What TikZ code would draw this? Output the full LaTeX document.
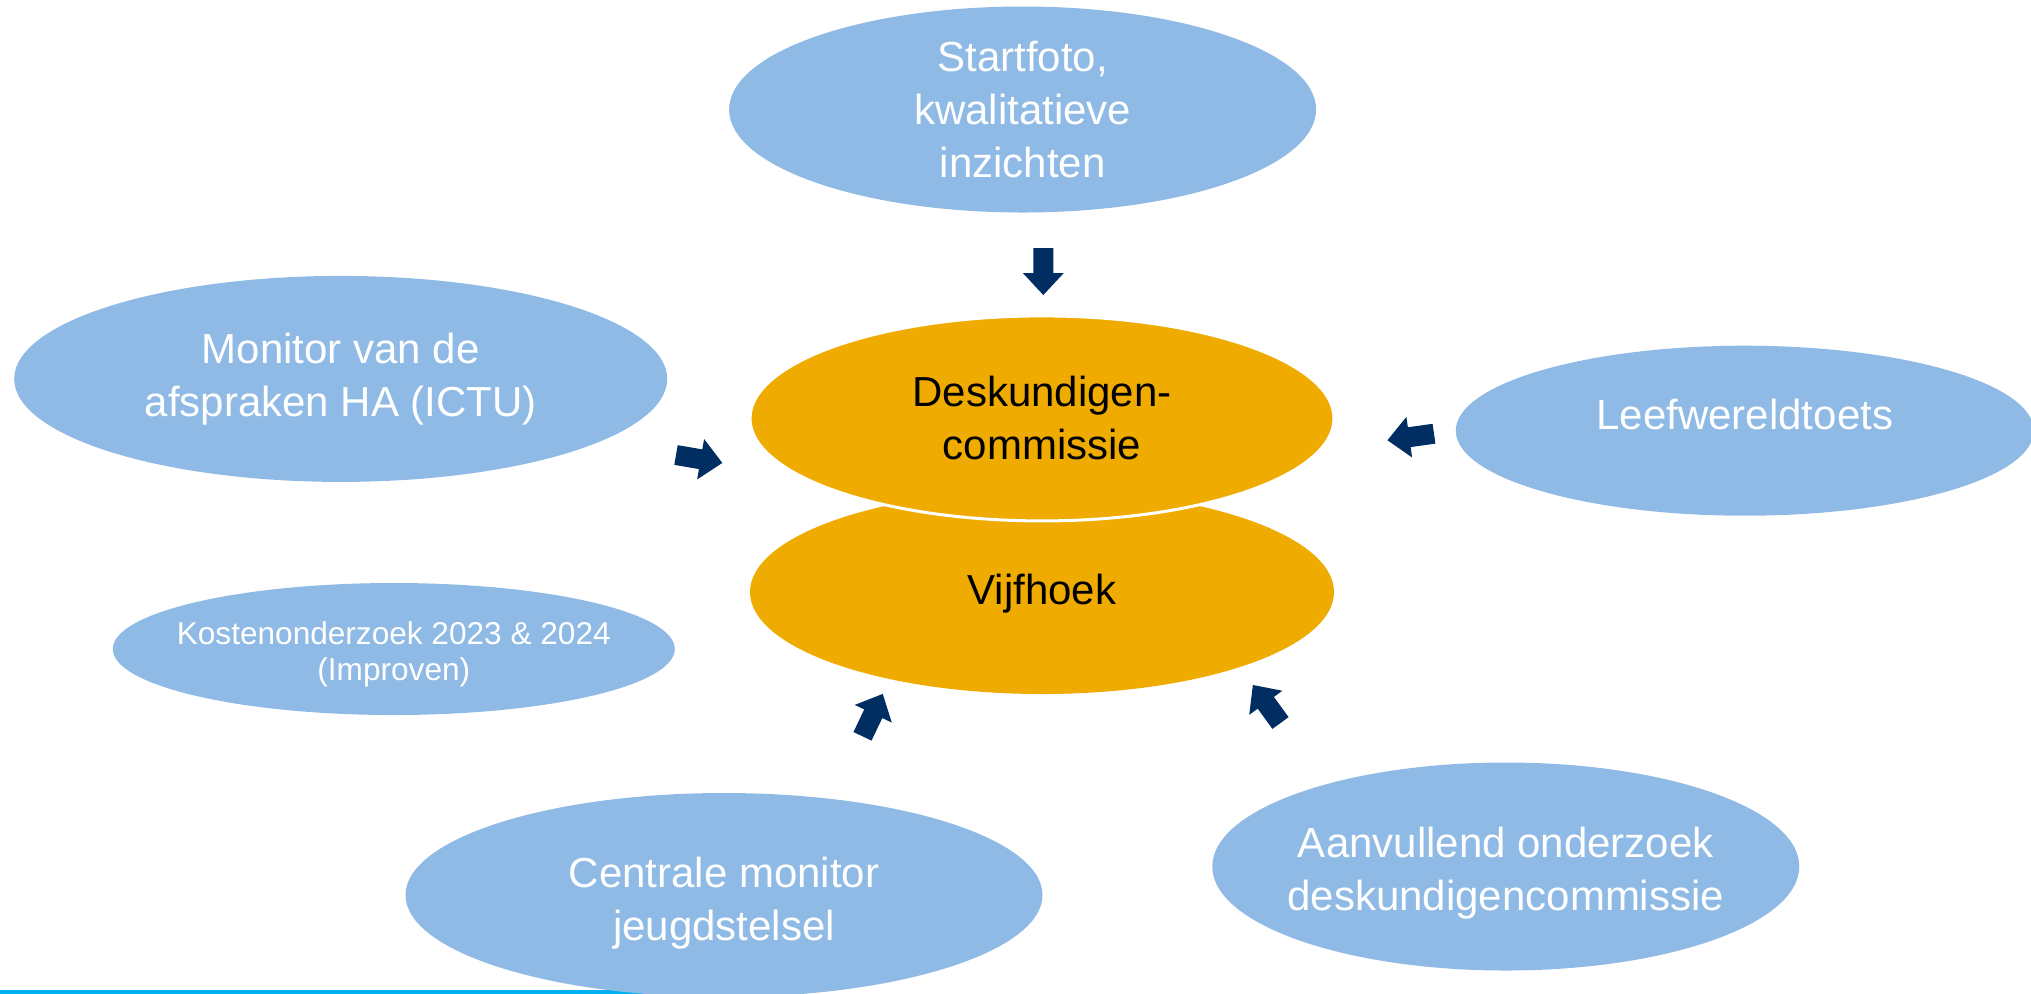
\documentclass[tikz,border=0pt]{standalone}
\usepackage{fontspec}
\setmainfont{Liberation Sans}
\usetikzlibrary{shapes.geometric}
\definecolor{lichtblauw}{RGB}{143,186,229}
\definecolor{goud}{RGB}{240,171,0}
\definecolor{marine}{RGB}{0,45,98}
\definecolor{lijnblauw}{RGB}{0,176,240}
\tikzset{
  blob/.style={ellipse,fill=lichtblauw,inner sep=0pt},
  kern/.style={ellipse,fill=goud,inner sep=0pt},
  wit/.style={text=white,align=center,font=\fontsize{21}{26.5}\selectfont},
  zwart/.style={text=black,align=center,font=\fontsize{21}{26.5}\selectfont},
  pijl/.pic={\fill[marine] (0,-10) -- (25,-10) -- (25,-20.5) -- (47,0) -- (25,20.5) -- (25,10) -- (0,10) -- cycle;}
}
\begin{document}
\begin{tikzpicture}[x=0.5pt,y=0.5pt]
  \useasboundingbox (0,0) rectangle (2031,-993);
  % blauwe lijn onderaan
  \coordinate (lijnL) at (0,-991.5);
  \coordinate (lijnR) at (724,-991.5);
  \draw[lijnblauw,line width=2pt] (lijnL) -- (lijnR);
  % kern
  \node[kern,minimum width=292pt,minimum height=102pt] (vijf) at (1042,-592) {};
  \node[kern,draw=white,line width=1.5pt,minimum width=292pt,minimum height=102.5pt] (desk) at (1042,-418.4) {};
  % bronnen
  \node[blob,minimum width=293.5pt,minimum height=103pt] (start) at (1022.6,-109.5) {};
  \node[blob,minimum width=326.5pt,minimum height=103pt] (monitor) at (340.7,-378.9) {};
  \node[blob,minimum width=289pt,minimum height=85pt] (leef) at (1744.8,-430.7) {};
  \node[blob,minimum width=281pt,minimum height=66pt] (kosten) at (393.8,-649) {};
  \node[blob,minimum width=318.5pt,minimum height=102pt] (centrale) at (724,-895) {};
  \node[blob,minimum width=293.5pt,minimum height=104pt] (aanv) at (1505.8,-866.5) {};
  % teksten
  \node[zwart] (t-desk) at (desk) {Deskundigen-\\commissie};
  \node[zwart] (t-vijf) at ([yshift=-1pt]vijf) {Vijfhoek};
  \node[wit] (t-start) at (start) {Startfoto,\\kwalitatieve\\inzichten};
  \node[wit] (t-monitor) at (monitor) {Monitor van de\\afspraken HA (ICTU)};
  \node[wit] (t-leef) at ([yshift=8pt]leef) {Leefwereldtoets};
  \node[wit,font=\fontsize{15.8}{18}\selectfont] (t-kosten) at ([yshift=-2.5pt]kosten) {Kostenonderzoek 2023 \& 2024\\(Improven)};
  \node[wit] (t-centrale) at ([yshift=-4pt]centrale) {Centrale monitor\\jeugdstelsel};
  \node[wit] (t-aanv) at ([yshift=-3.5pt]aanv) {Aanvullend onderzoek\\deskundigencommissie};
  % pijlen
  \pic[rotate=-90] at (1043.3,-248) {pijl};
  \pic[rotate=-9.7] at (676,-455) {pijl};
  \pic[rotate=188] at (1434,-433.7) {pijl};
  \pic[rotate=64.5] at (862.5,-736.3) {pijl};
  \pic[rotate=126] at (1280.5,-723) {pijl};
\end{tikzpicture}
\end{document}
